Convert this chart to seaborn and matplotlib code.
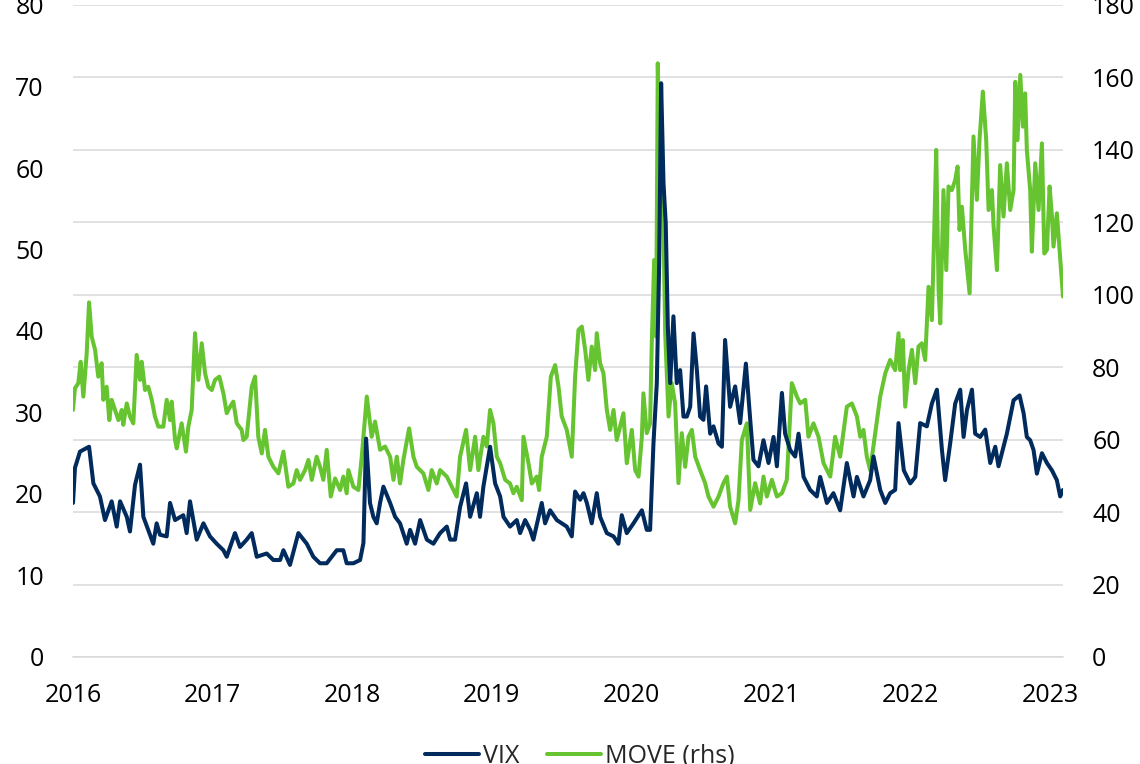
import pandas as pd
import seaborn as sns
import matplotlib.pyplot as plt
from matplotlib.lines import Line2D

# VIX (lhs), x in decimal years
vix_year = [
    2016.000, 2016.014, 2016.050, 2016.115, 2016.146, 2016.193, 2016.229, 2016.277, 2016.313,
    2016.337, 2016.385, 2016.408, 2016.444, 2016.480, 2016.504, 2016.575, 2016.599, 2016.623,
    2016.671, 2016.695, 2016.731, 2016.790, 2016.814, 2016.838, 2016.886, 2016.934, 2016.981,
    2017.029, 2017.077, 2017.101, 2017.160, 2017.196, 2017.244, 2017.280, 2017.316, 2017.387,
    2017.435, 2017.483, 2017.507, 2017.554, 2017.614, 2017.674, 2017.721, 2017.769, 2017.817,
    2017.889, 2017.936, 2017.960,
    2018.008, 2018.056, 2018.080, 2018.099, 2018.127, 2018.151, 2018.175, 2018.199, 2018.223,
    2018.271, 2018.307, 2018.342, 2018.390, 2018.414, 2018.450, 2018.486, 2018.534, 2018.581,
    2018.629, 2018.677, 2018.701, 2018.736, 2018.772, 2018.815, 2018.844, 2018.892, 2018.915,
    2018.939, 2018.987,
    2019.023, 2019.059, 2019.083, 2019.130, 2019.178, 2019.202, 2019.238, 2019.274, 2019.297,
    2019.357, 2019.381, 2019.417, 2019.465, 2019.536, 2019.572, 2019.596, 2019.632, 2019.656,
    2019.680, 2019.715, 2019.751, 2019.775, 2019.823, 2019.871, 2019.906, 2019.930, 2019.966,
    2020.014, 2020.074, 2020.109, 2020.133, 2020.157, 2020.181, 2020.198, 2020.212, 2020.229,
    2020.245, 2020.260, 2020.277, 2020.300, 2020.324, 2020.348, 2020.372, 2020.396, 2020.420,
    2020.444, 2020.468, 2020.491, 2020.515, 2020.534, 2020.563, 2020.587, 2020.623, 2020.647,
    2020.670, 2020.706, 2020.742, 2020.778, 2020.819, 2020.850, 2020.873, 2020.909, 2020.945,
    2020.981,
    2021.017, 2021.041, 2021.077, 2021.100, 2021.136, 2021.172, 2021.196, 2021.232, 2021.279,
    2021.327, 2021.351, 2021.399, 2021.446, 2021.494, 2021.542, 2021.590, 2021.614, 2021.661,
    2021.709, 2021.733, 2021.781, 2021.817, 2021.852, 2021.888, 2021.912, 2021.950, 2021.996,
    2022.032, 2022.067, 2022.115, 2022.151, 2022.187, 2022.223, 2022.246, 2022.282, 2022.318,
    2022.354, 2022.378, 2022.402, 2022.438, 2022.461, 2022.497, 2022.533, 2022.569, 2022.605,
    2022.628, 2022.664, 2022.688, 2022.736, 2022.779, 2022.808, 2022.831, 2022.855, 2022.879,
    2022.903, 2022.939, 2022.975,
    2023.011, 2023.046, 2023.070, 2023.090,
]
vix_value = [
    18.9, 23.2, 25.2, 25.8, 21.3, 19.7, 16.8, 19.1, 16.0,
    19.1, 17.2, 15.4, 21.1, 23.6, 17.2, 13.9, 16.4, 15.0,
    14.8, 18.9, 16.8, 17.4, 15.2, 19.1, 14.4, 16.4, 14.8,
    13.9, 13.1, 12.3, 15.2, 13.5, 14.4, 15.2, 12.3, 12.7,
    11.9, 11.9, 13.1, 11.3, 15.2, 13.9, 12.3, 11.5, 11.5,
    13.1, 13.1, 11.5,
    11.5, 11.9, 14.0, 26.8, 18.9, 17.2, 16.4, 18.9, 20.9,
    18.9, 17.2, 16.4, 13.9, 15.6, 13.9, 16.8, 14.4, 13.9,
    15.2, 16.0, 14.4, 14.4, 18.4, 21.3, 17.2, 20.1, 17.2,
    20.9, 25.8,
    21.3, 19.7, 17.2, 16.0, 16.8, 15.2, 16.8, 15.6, 14.4,
    18.9, 16.4, 18.0, 16.8, 16.0, 14.8, 20.3, 19.3, 20.1,
    18.9, 16.4, 20.1, 17.2, 15.2, 14.8, 13.9, 17.4, 15.2,
    16.4, 18.0, 15.6, 15.6, 26.2, 33.6, 48.3, 70.4, 58.1,
    53.2, 40.5, 33.6, 41.8, 33.6, 35.2, 29.5, 29.5, 30.7,
    39.7, 35.2, 29.5, 29.1, 33.2, 27.4, 28.3, 26.2, 25.8,
    38.9, 30.7, 33.2, 28.7, 36.0, 29.1, 24.2, 23.4, 26.6,
    23.8,
    27.0, 23.4, 32.4, 27.4, 25.4, 24.6, 27.4, 22.1, 20.5,
    19.7, 22.1, 18.9, 20.1, 18.0, 23.8, 19.7, 22.1, 19.7,
    21.7, 24.6, 20.5, 18.9, 20.1, 20.5, 28.7, 22.9, 21.3,
    22.1, 28.7, 28.3, 31.1, 32.8, 25.4, 21.7, 26.2, 31.1,
    32.8, 27.0, 30.3, 32.8, 27.4, 27.0, 27.9, 23.8, 25.8,
    23.4, 25.8, 27.4, 31.5, 32.1, 29.9, 27.0, 26.6, 25.4,
    22.5, 25.0, 23.8,
    22.9, 21.7, 19.7, 20.5,
]

# MOVE (rhs)
move_year = [
    2016.000, 2016.014, 2016.038, 2016.055, 2016.074, 2016.098, 2016.115, 2016.134, 2016.158,
    2016.181, 2016.205, 2016.217, 2016.241, 2016.260, 2016.277, 2016.301, 2016.325, 2016.349,
    2016.360, 2016.385, 2016.408, 2016.432, 2016.456, 2016.480, 2016.492, 2016.516, 2016.539,
    2016.564, 2016.587, 2016.611, 2016.647, 2016.671, 2016.695, 2016.707, 2016.731, 2016.743,
    2016.778, 2016.809, 2016.826, 2016.850, 2016.874, 2016.898, 2016.922, 2016.946, 2016.969,
    2016.994,
    2017.017, 2017.048, 2017.077, 2017.101, 2017.125, 2017.148, 2017.173, 2017.208, 2017.220,
    2017.244, 2017.280, 2017.304, 2017.327, 2017.352, 2017.375, 2017.399, 2017.435, 2017.471,
    2017.507, 2017.542, 2017.578, 2017.602, 2017.626, 2017.662, 2017.686, 2017.710, 2017.745,
    2017.769, 2017.793, 2017.817, 2017.846, 2017.877, 2017.913, 2017.936, 2017.960, 2017.972,
    2018.008, 2018.044, 2018.068, 2018.104, 2018.139, 2018.163, 2018.199, 2018.235, 2018.271,
    2018.295, 2018.319, 2018.342, 2018.366, 2018.407, 2018.438, 2018.462, 2018.509, 2018.545,
    2018.569, 2018.605, 2018.629, 2018.677, 2018.713, 2018.748, 2018.772, 2018.815, 2018.844,
    2018.880, 2018.903, 2018.939, 2018.963, 2018.987,
    2019.011, 2019.035, 2019.059, 2019.095, 2019.130, 2019.154, 2019.178, 2019.214, 2019.226,
    2019.262, 2019.286, 2019.321, 2019.338, 2019.357, 2019.393, 2019.422, 2019.453, 2019.477,
    2019.500, 2019.536, 2019.572, 2019.596, 2019.620, 2019.644, 2019.668, 2019.691, 2019.715,
    2019.739, 2019.751, 2019.775, 2019.799, 2019.823, 2019.847, 2019.871, 2019.894, 2019.942,
    2019.966,
    2020.002, 2020.026, 2020.050, 2020.074, 2020.085, 2020.109, 2020.133, 2020.145, 2020.162,
    2020.176, 2020.188, 2020.200, 2020.217, 2020.229, 2020.241, 2020.265, 2020.288, 2020.312,
    2020.336, 2020.360, 2020.384, 2020.408, 2020.432, 2020.456, 2020.491, 2020.527, 2020.551,
    2020.587, 2020.623, 2020.658, 2020.683, 2020.706, 2020.742, 2020.766, 2020.790, 2020.826,
    2020.850, 2020.885, 2020.921, 2020.945, 2020.969,
    2021.005, 2021.041, 2021.077, 2021.112, 2021.148, 2021.184, 2021.208, 2021.244, 2021.267,
    2021.303, 2021.339, 2021.375, 2021.423, 2021.458, 2021.494, 2021.542, 2021.578, 2021.614,
    2021.638, 2021.661, 2021.685, 2021.709, 2021.745, 2021.781, 2021.817, 2021.852, 2021.888,
    2021.912, 2021.924, 2021.943, 2021.960, 2021.984,
    2022.008, 2022.032, 2022.055, 2022.079, 2022.103, 2022.127, 2022.151, 2022.168, 2022.182,
    2022.199, 2022.211, 2022.234, 2022.254, 2022.270, 2022.294, 2022.318, 2022.335, 2022.349,
    2022.366, 2022.390, 2022.421, 2022.449, 2022.473, 2022.492, 2022.516, 2022.540, 2022.557,
    2022.581, 2022.593, 2022.617, 2022.640, 2022.664, 2022.688, 2022.712, 2022.736, 2022.748,
    2022.764, 2022.784, 2022.803, 2022.819, 2022.831, 2022.855, 2022.867, 2022.891, 2022.915,
    2022.939, 2022.956, 2022.975, 2022.994,
    2023.011, 2023.022, 2023.046, 2023.065, 2023.082, 2023.090,
]
move_value = [
    68.2, 74.2, 75.6, 81.5, 71.9, 83.8, 97.9, 88.4, 84.8,
    77.4, 81.1, 71.0, 74.6, 65.4, 71.0, 68.2, 65.4, 68.2,
    64.1, 70.0, 66.4, 64.5, 83.4, 76.5, 81.5, 73.7, 74.6,
    71.0, 66.4, 63.6, 63.6, 71.0, 65.4, 70.5, 59.9, 57.6,
    64.5, 56.7, 63.6, 68.2, 89.4, 76.5, 86.6, 78.3, 74.6,
    73.7,
    76.5, 77.4, 72.8, 67.3, 69.1, 70.5, 64.5, 62.7, 59.9,
    60.8, 74.6, 77.4, 60.8, 56.2, 62.7, 55.3, 52.5, 50.7,
    56.7, 47.0, 47.9, 51.6, 48.9, 51.6, 54.4, 48.9, 55.3,
    52.5, 48.9, 57.2, 44.3, 49.3, 46.1, 49.8, 45.2, 51.6,
    47.0, 46.1, 55.3, 71.9, 60.8, 65.0, 57.2, 58.1, 55.3,
    48.9, 55.3, 47.9, 54.4, 63.1, 55.3, 52.5, 50.7, 46.1,
    51.6, 47.9, 51.6, 49.8, 47.0, 44.3, 55.3, 62.7, 51.6,
    60.8, 51.6, 60.8, 58.1, 68.2,
    64.5, 55.3, 53.5, 48.9, 47.9, 45.2, 47.0, 43.3, 60.8,
    53.5, 47.9, 49.8, 46.1, 55.3, 60.8, 77.4, 80.6, 74.6,
    66.4, 62.7, 55.3, 77.4, 90.3, 91.2, 84.8, 76.5, 85.7,
    79.2, 89.4, 81.1, 78.3, 68.2, 62.7, 68.2, 59.9, 67.3,
    53.5,
    62.7, 51.6, 49.8, 60.8, 72.8, 61.8, 64.5, 86.6, 109.6,
    88.4, 163.9, 140.0, 140.0, 118.8, 89.4, 66.4, 75.6, 70.0,
    48.0, 61.8, 52.5, 60.8, 62.7, 55.3, 51.6, 48.0, 44.3,
    41.5, 44.3, 48.0, 49.8, 41.5, 36.9, 43.3, 59.9, 64.5,
    40.6, 48.0, 42.4, 49.8, 44.3,
    48.9, 44.3, 45.2, 48.9, 75.6, 71.9, 70.0, 71.0, 60.8,
    64.5, 60.8, 53.5, 49.8, 60.8, 55.3, 69.1, 70.0, 66.4,
    60.8, 62.7, 55.3, 51.6, 61.8, 71.9, 78.3, 82.0, 79.2,
    89.4, 79.2, 87.5, 69.1, 79.2,
    84.8, 75.6, 85.7, 86.6, 82.0, 102.2, 93.0, 117.9, 140.0,
    101.3, 92.1, 128.9, 106.8, 129.9, 128.9, 131.7, 135.4, 117.9,
    124.3, 112.4, 100.4, 143.7, 126.2, 142.7, 156.1, 142.7, 123.4,
    128.9, 118.8, 106.8, 135.8, 121.6, 136.3, 123.4, 128.9, 158.8,
    142.7, 160.7, 146.4, 155.6, 140.0, 128.9, 111.9, 136.3, 123.4,
    141.8, 111.4, 112.4, 129.9,
    121.6, 113.3, 122.5, 112.4, 103.2, 99.5,
]

year_ticks = list(range(2016, 2024))

navy = '#002B5C'
green = '#66C430'
grey = '#D9D9D9'
fs = 18

sns.set_style('white')
plt.rcParams['font.family'] = ['Open Sans', 'DejaVu Sans']
plt.rcParams['font.size'] = fs

vix = pd.DataFrame({'year': vix_year, 'value': vix_value})
move = pd.DataFrame({'year': move_year, 'value': move_value})

fig = plt.figure(figsize=(11.4, 7.64), dpi=100)
ax = fig.add_axes([73 / 1140, 1 - 657 / 764, 990 / 1140, 652 / 764])
ax2 = ax.twinx()

# grid and MOVE on the rhs axis, VIX drawn on top
sns.lineplot(data=move, x='year', y='value', ax=ax2, color=green, lw=2.9,
             estimator=None, sort=False)
sns.lineplot(data=vix, x='year', y='value', ax=ax, color=navy, lw=2.9,
             estimator=None, sort=False)
ax.set_zorder(ax2.get_zorder() + 1)
ax.patch.set_visible(False)

ax.set_xlim(vix_year[0], vix_year[-1])
ax.set_ylim(0, 80)
ax.set_yticks(range(0, 81, 10))
ax2.set_ylim(0, 180)
ax2.set_yticks(range(0, 181, 20))
ax.set_xticks(year_ticks)
ax.set_xticklabels([str(y) for y in year_ticks])

ax2.yaxis.grid(True, color=grey, lw=1.1)
ax.yaxis.grid(False)
for a in (ax, ax2):
    a.set_xlabel('')
    a.set_ylabel('')
    for s in a.spines.values():
        s.set_visible(False)
ax.spines['bottom'].set_visible(True)
ax.spines['bottom'].set_color(grey)
ax.spines['bottom'].set_linewidth(1.1)

ax.tick_params(axis='y', length=0, pad=21, labelsize=fs, colors='black')
ax2.tick_params(axis='y', length=0, pad=21, labelsize=fs, colors='black')
ax.tick_params(axis='x', length=6, width=1.1, color=grey, pad=13,
               labelsize=fs, labelcolor='black', direction='out')

handles = [Line2D([], [], color=navy, lw=2.9), Line2D([], [], color=green, lw=2.9)]
fig.legend(handles, ['VIX', 'MOVE (rhs)'], loc='center', bbox_to_anchor=(0.509, 0.010),
           ncol=2, frameon=False, fontsize=fs, handlelength=2.16, handletextpad=0.16,
           columnspacing=1.1)

fig.savefig('out.png', dpi=100)
